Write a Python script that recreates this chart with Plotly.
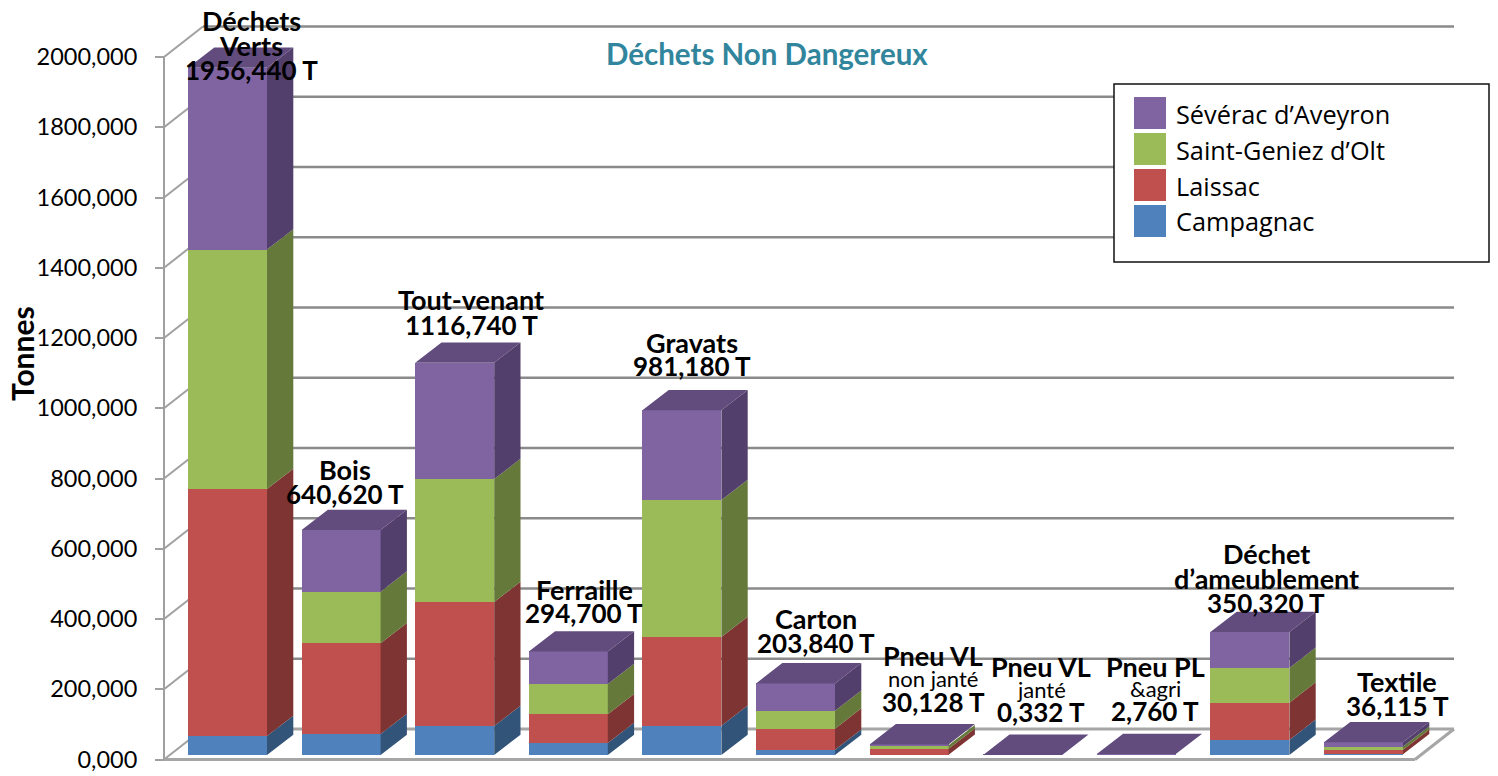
import plotly.graph_objects as go

# ---------- data ----------
categories = ["Déchets Verts", "Bois", "Tout-venant", "Ferraille", "Gravats", "Carton",
              "Pneu VL non janté", "Pneu VL janté", "Pneu PL &agri", "Déchet d'ameublement", "Textile"]
campagnac = [54, 60, 82.5, 34, 83.4, 15, 0.5, 0.05, 0.2, 43, 2]
laissac = [703, 258, 353, 82, 252.5, 60, 17, 0.15, 1.8, 106, 13]
saint_geniez = [682, 147, 350, 86, 390, 51, 10, 0.1, 0.5, 99, 9]
severac = [517.44, 175.62, 331.24, 92.7, 255.28, 77.84, 2.628, 0.032, 0.26, 102.32, 12.115]
series_names = ["Campagnac", "Laissac", "Saint-Geniez d’Olt", "Sévérac d’Aveyron"]
tick_values = [0, 200, 400, 600, 800, 1000, 1200, 1400, 1600, 1800, 2000]
tick_labels = ["0,000", "200,000", "400,000", "600,000", "800,000", "1000,000",
               "1200,000", "1400,000", "1600,000", "1800,000", "2000,000"]
# (text, style): 2 = bold name, 1 = bold value, 0 = regular
label_lines = [
    [("Déchets", 2), ("Verts", 2), ("1956,440 T", 1)], [("Bois", 2), ("640,620 T", 1)],
    [("Tout-venant", 2), ("1116,740 T", 1)], [("Ferraille", 2), ("294,700 T", 1)],
    [("Gravats", 2), ("981,180 T", 1)], [("Carton", 2), ("203,840 T", 1)],
    [("Pneu VL", 2), ("non janté", 0), ("30,128 T", 1)], [("Pneu VL", 2), ("janté", 0), ("0,332 T", 1)],
    [("Pneu PL", 2), ("&agri", 0), ("2,760 T", 1)],
    [("Déchet", 2), ("d’ameublement", 2), ("350,320 T", 1)], [("Textile", 2), ("36,115 T", 1)],
]

# ---------- style / layout constants ----------
W, H = 1498, 776
FONT = "Lato"
PITCH = 113.6      # px per category
X0_PX = 227.5      # px of first bar centre
PX_PER_T = 0.35125 # px per tonne
BASE_PX = 755.0    # bar baseline
AXIS_ZERO_PX = 759.5
front = ["#4f81bd", "#c0504d", "#9bbb59", "#8064a2"]
side = ["#335479", "#7d3432", "#65793a", "#533f6b"]
top_color = "#624c7e"
grid_c, wall_c = "#8a8a8a", "#a0a0a0"

def xd(px): return (px - X0_PX) / PITCH
def y_axis(py): return (AXIS_ZERO_PX - py) / PX_PER_T   # front-plane axis
def dx(px): return px / PITCH
def dy(px): return px / PX_PER_T

BAR_W = 79 / PITCH
BDX, BDY = dx(26.3), dy(20.3)
WDX, WDY = dx(39), dy(30.5)
XL, XR = xd(164), xd(1415)

stacks = [campagnac, laissac, saint_geniez, severac]
idx = list(range(len(categories)))
fig = go.Figure()

# axis wall line (front plane)
fig.add_trace(go.Scatter(x=[XL, XL], y=[0, 2000], mode="lines", line=dict(color=wall_c, width=2),
                         hoverinfo="skip", showlegend=False, xaxis="x", yaxis="y"))

# front faces
for s, name, c in zip(stacks, series_names, front):
    fig.add_trace(go.Bar(x=idx, y=s, name=name, marker=dict(color=c, line=dict(width=0)), width=BAR_W,
                         xaxis="x", yaxis="y2", customdata=categories,
                         hovertemplate="%{customdata}<br>%{y}<extra>" + name + "</extra>"))

# side faces
cum = [0.0] * len(idx)
for s, c in zip(stacks, side):
    xs, ys = [], []
    for i in idx:
        lo, hi = cum[i], cum[i] + s[i]
        r = i + BAR_W / 2
        xs += [r, r + BDX, r + BDX, r, r, None]
        ys += [lo, lo + BDY, hi + BDY, hi, lo, None]
        cum[i] = hi
    fig.add_trace(go.Scatter(x=xs, y=ys, mode="lines", fill="toself", fillcolor=c, line=dict(width=0),
                             hoverinfo="skip", showlegend=False, xaxis="x", yaxis="y2"))
# top faces
xs, ys = [], []
for i in idx:
    l, r = i - BAR_W / 2, i + BAR_W / 2
    xs += [l, r, r + BDX, l + BDX, l, None]
    ys += [cum[i], cum[i], cum[i] + BDY, cum[i] + BDY, cum[i], None]
fig.add_trace(go.Scatter(x=xs, y=ys, mode="lines", fill="toself", fillcolor=top_color, line=dict(width=0),
                         hoverinfo="skip", showlegend=False, xaxis="x", yaxis="y2"))

# walls / grid
shapes = []
def seg(x0, y0, x1, y1, c, w, layer="below"):
    shapes.append(dict(type="line", xref="x", yref="y", x0=x0, y0=y0, x1=x1, y1=y1,
                       line=dict(color=c, width=w), layer=layer))
for v in tick_values:
    seg(XL, v, XL + WDX, v + WDY, wall_c, 2)
    seg(XL + WDX, v + WDY, XR + WDX, v + WDY, grid_c if v else "#a6a6a6", 2.5 if v else 3)
seg(XL, 0, XR, 0, "#a6a6a6", 3)
seg(XR, 0, XR + WDX, WDY, "#a6a6a6", 3)

# legend box and big swatches (paper px)
def xp(px): return px / W
def yp(py): return 1 - py / H
shapes.append(dict(type="rect", xref="paper", yref="paper", x0=xp(1114), x1=xp(1489), y0=yp(84), y1=yp(262),
                   fillcolor="white", line=dict(color="#111111", width=1.5), layer="above"))
for k, c in enumerate(reversed(front)):
    shapes.append(dict(type="rect", xref="paper", yref="paper", x0=xp(1134), x1=xp(1166),
                       y0=yp(97 + 36 * k), y1=yp(129 + 36 * k), fillcolor=c, line=dict(width=0), layer="above"))

# labels (hand placed in the source chart): centre px, first-line y px, line step px
label_pos = [(251, 20, 25), (345, 470, 24), (471, 300, 25), (584, 589, 24), (692, 342, 24), (816, 618, 25),
             (933, 655, 23.5), (1041, 666, 23), (1155, 666, 22.5), (1266, 553, 25), (1397, 681, 25)]
sizes = {2: 27, 1: 26, 0: 22}
ann = []
for lines, (cx, cy, st) in zip(label_lines, label_pos):
    for j, (t, style) in enumerate(lines):
        ann.append(dict(xref="paper", yref="paper", x=xp(cx), y=yp(cy + j * st), xanchor="center", yanchor="middle",
                        showarrow=False, text=f"<b>{t}</b>" if style else t,
                        font=dict(family=FONT, size=sizes[style], color="black")))
ann.append(dict(xref="paper", yref="paper", x=xp(767), y=yp(54), xanchor="center", yanchor="middle", showarrow=False,
                text="<b>Déchets Non Dangereux</b>", font=dict(family=FONT, size=29.5, color="#31859c")))
ann.append(dict(xref="paper", yref="paper", x=xp(22), y=yp(354), xanchor="center", yanchor="middle", showarrow=False,
                textangle=-90, text="<b>Tonnes</b>", font=dict(family=FONT, size=30, color="black")))

fig.update_layout(
    width=W, height=H, margin=dict(l=0, r=0, t=0, b=0, pad=0), autosize=False,
    paper_bgcolor="white", plot_bgcolor="white", barmode="stack", bargap=0,
    xaxis=dict(visible=False, range=[xd(0), xd(W)], domain=[0, 1]),
    yaxis=dict(range=[y_axis(H), y_axis(0)], anchor="free", position=xp(164), side="left", showgrid=False,
               zeroline=False, showline=False, tickmode="array", tickvals=tick_values, ticktext=tick_labels,
               ticks="outside", ticklen=9, tickwidth=2, tickcolor=wall_c, ticklabelstandoff=13,
               tickfont=dict(family=FONT, size=23.5, color="black")),
    yaxis2=dict(overlaying="y", visible=False, range=[(BASE_PX - H) / PX_PER_T, BASE_PX / PX_PER_T]),
    shapes=shapes, annotations=ann,
    legend=dict(x=xp(1128), y=yp(91), xanchor="left", yanchor="top", bgcolor="rgba(0,0,0,0)", borderwidth=0,
                traceorder="reversed", itemwidth=38, itemclick=False, itemdoubleclick=False,
                font=dict(family="Open Sans", size=25.3, color="black")),
)
fig.write_html("out.html", config=dict(displayModeBar=False),
               post_script="document.body.style.margin='0';")
